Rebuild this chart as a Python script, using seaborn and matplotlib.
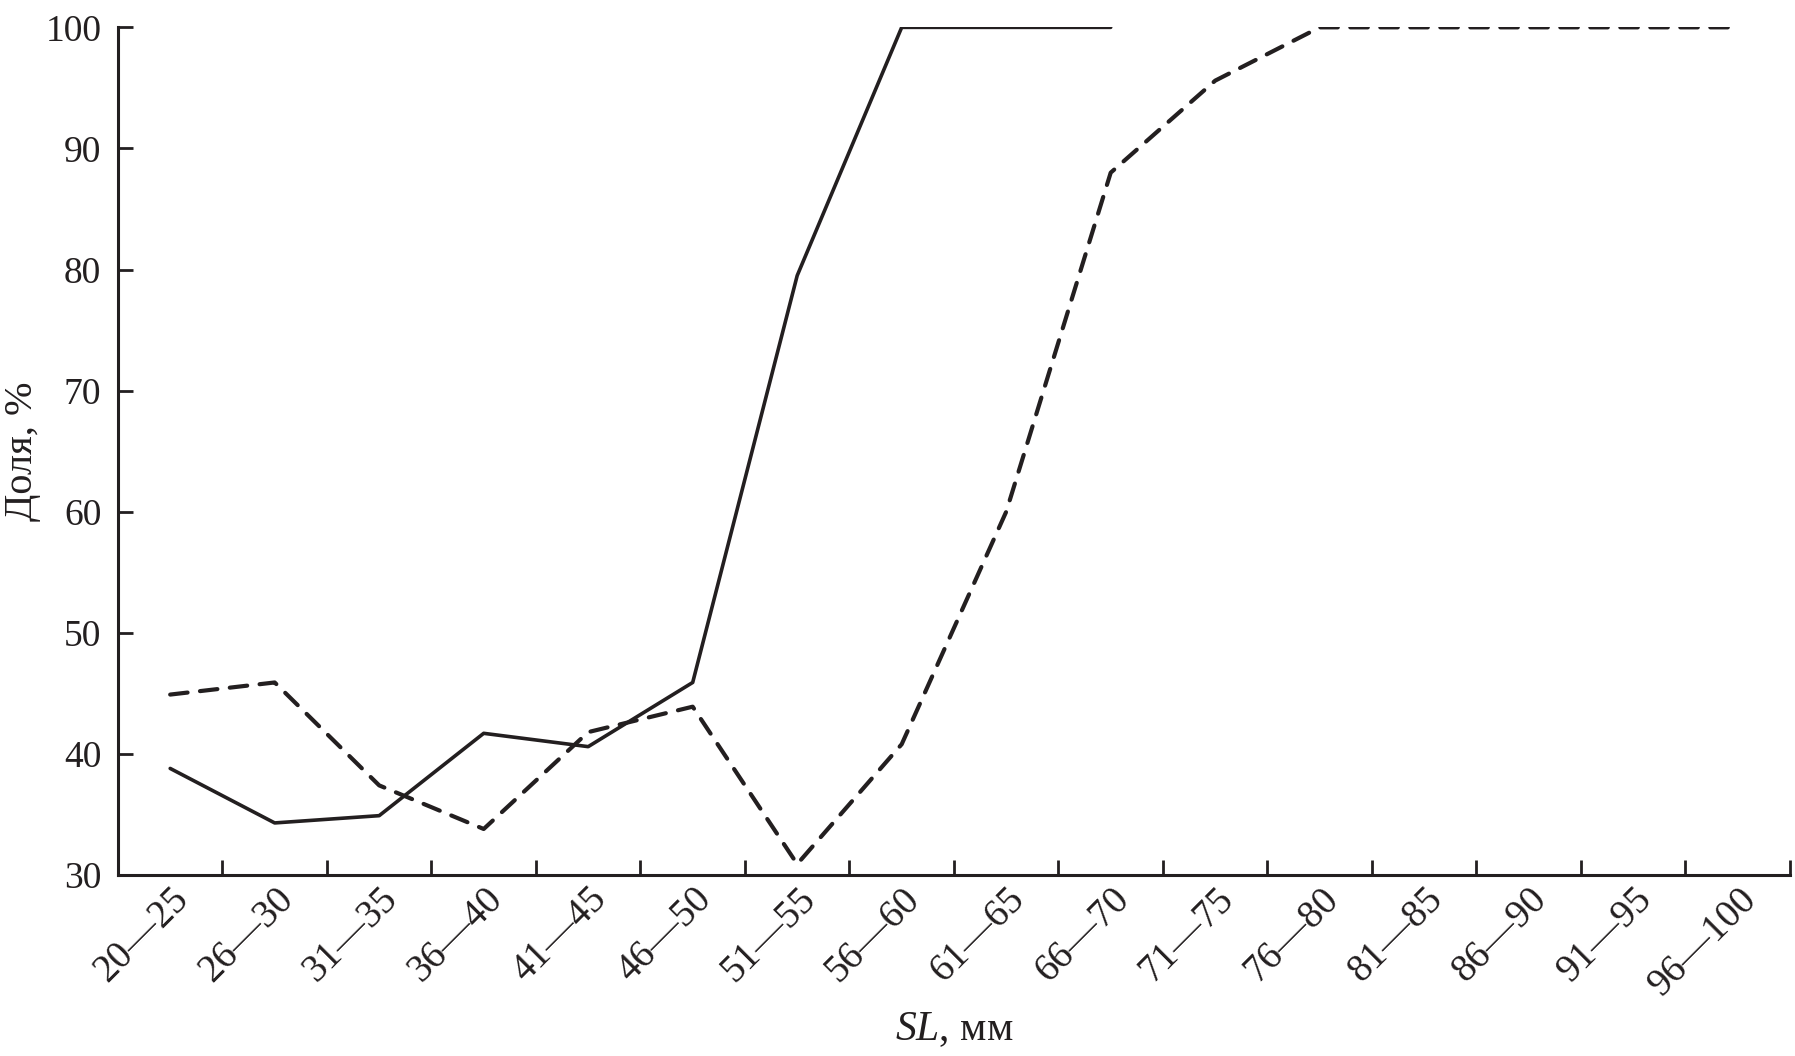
import numpy as np
import pandas as pd
import matplotlib
matplotlib.use("Agg")
import matplotlib.pyplot as plt
import seaborn as sns

# size classes (SL, mm)
size_classes = ["20—25", "26—30", "31—35", "36—40", "41—45", "46—50", "51—55", "56—60",
                "61—65", "66—70", "71—75", "76—80", "81—85", "86—90", "91—95", "96—100"]

# share, % (solid line)
solid_values = [38.8, 34.3, 34.9, 41.7, 40.6, 45.9, 79.5, 100, 100, 100]
# share, % (dashed line)
dashed_values = [44.9, 45.9, 37.4, 33.8, 41.8, 43.9, 30.9, 40.8, 60.0, 88.0,
                 95.6, 100, 100, 100, 100, 100]

y_ticks = [30, 40, 50, 60, 70, 80, 90, 100]

sns.set_theme(style="ticks")
plt.rcParams["font.family"] = ["Liberation Serif", "DejaVu Serif"]
plt.rcParams["mathtext.fontset"] = "custom"
plt.rcParams["mathtext.it"] = "Liberation Serif:italic"
plt.rcParams["mathtext.rm"] = "Liberation Serif"

ink = "#231f20"

solid_df = pd.DataFrame({"x": np.arange(len(solid_values)), "y": solid_values})
dashed_df = pd.DataFrame({"x": np.arange(len(dashed_values)), "y": dashed_values})

fig = plt.figure(figsize=(17.95, 10.56), dpi=100)
ax = fig.add_axes([0.0657, 0.1714, 0.9315, 0.8027])

sns.lineplot(data=solid_df, x="x", y="y", ax=ax, color=ink, linewidth=2.6)
sns.lineplot(data=dashed_df, x="x", y="y", ax=ax, color=ink, linewidth=3.0)
ax.lines[-1].set_dashes((4.2, 3.0))
ax.lines[-1].set_dash_capstyle("round")

ax.set_xlim(-0.5, len(size_classes) - 0.5)
ax.set_ylim(30, 100)

# category labels at centers, tick marks at class boundaries
ax.set_xticks(np.arange(len(size_classes)))
ax.set_xticklabels(size_classes, rotation=45, ha="right", rotation_mode="anchor")
ax.set_xticks(np.arange(len(size_classes) + 1) - 0.5, minor=True)
ax.tick_params(axis="x", which="major", length=0, pad=4, labelsize=28, colors=ink)
ax.tick_params(axis="x", which="minor", direction="in", length=11, width=2, color=ink)

ax.set_yticks(y_ticks)
ax.tick_params(axis="y", direction="in", length=11, width=2, pad=12, labelsize=27, colors=ink)

for side in ["top", "right"]:
    ax.spines[side].set_visible(False)
for side in ["left", "bottom"]:
    ax.spines[side].set_linewidth(2.2)
    ax.spines[side].set_color(ink)

ax.set_xlabel(r"$SL$, мм", fontsize=30, color=ink)
ax.set_ylabel("Доля, %", fontsize=29, color=ink)
ax.xaxis.set_label_coords(0.5, -0.16)
ax.yaxis.set_label_coords(-0.046, 0.5)

plt.savefig("out.png", dpi=100)
